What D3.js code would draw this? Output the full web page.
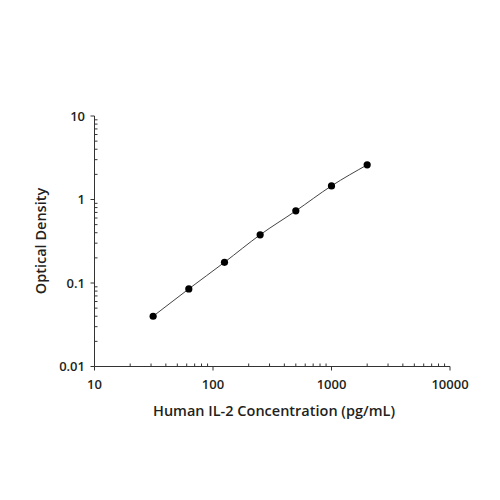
<!DOCTYPE html>
<html>
<head>
<meta charset="utf-8">
<script src="https://cdn.jsdelivr.net/npm/d3@7"></script>
<style>
  html, body { margin: 0; padding: 0; background: #fff; }
  svg { display: block; }
  text { font-family: "Open Sans", "Noto Sans", sans-serif; fill: #231f20; }
</style>
</head>
<body>
<svg id="chart" width="500" height="500"></svg>
<script>
const concentrations = [31.25, 62.5, 125, 250, 500, 1000, 2000];
const opticalDensity = [0.040, 0.085, 0.177, 0.378, 0.731, 1.456, 2.60];
const xTickValues = [10, 100, 1000, 10000];
const xTickLabels = ["10", "100", "1000", "10000"];
const yTickValues = [0.01, 0.1, 1, 10];
const yTickLabels = ["0.01", "0.1", "1", "10"];
const xTitle = "Human IL-2 Concentration (pg/mL)";
const yTitle = "Optical Density";

const svg = d3.select("#chart");
const plotLeft = 94.5, plotRight = 450, plotTop = 116, plotBottom = 366.5;

const x = d3.scaleLog().domain([10, 10000]).range([plotLeft, plotRight]);
const y = d3.scaleLog().domain([0.01, 10]).range([plotBottom, plotTop]);

const axisColor = "#333";

function minors(domain) {
  const out = [];
  for (let d = domain[0]; d < domain[1]; d *= 10) {
    for (let k = 2; k <= 9; k++) out.push(d * k);
  }
  return out;
}

// X axis
const gx = svg.append("g");
gx.append("line").attr("x1", plotLeft).attr("x2", plotRight).attr("y1", plotBottom).attr("y2", plotBottom)
  .attr("stroke", axisColor).attr("stroke-width", 1);
gx.selectAll("line.minor").data(minors(x.domain())).enter().append("line")
  .attr("class", "minor")
  .attr("x1", d => x(d)).attr("x2", d => x(d))
  .attr("y1", plotBottom).attr("y2", plotBottom - 3)
  .attr("stroke", axisColor).attr("stroke-width", 1);
gx.selectAll("line.major").data(xTickValues).enter().append("line")
  .attr("class", "major")
  .attr("x1", d => x(d)).attr("x2", d => x(d))
  .attr("y1", plotBottom).attr("y2", plotBottom + 4)
  .attr("stroke", axisColor).attr("stroke-width", 1);
gx.selectAll("text").data(xTickValues).enter().append("text")
  .attr("x", d => x(d)).attr("y", 389)
  .attr("text-anchor", "middle")
  .attr("font-size", 13).attr("font-weight", 600)
  .text((d, i) => xTickLabels[i]);

// Y axis
const gy = svg.append("g");
gy.append("line").attr("x1", plotLeft).attr("x2", plotLeft).attr("y1", plotTop).attr("y2", plotBottom)
  .attr("stroke", axisColor).attr("stroke-width", 1);
gy.selectAll("line.minor").data(minors(y.domain())).enter().append("line")
  .attr("class", "minor")
  .attr("y1", d => y(d)).attr("y2", d => y(d))
  .attr("x1", plotLeft).attr("x2", plotLeft + 3)
  .attr("stroke", axisColor).attr("stroke-width", 1);
gy.selectAll("line.major").data(yTickValues).enter().append("line")
  .attr("class", "major")
  .attr("y1", d => y(d)).attr("y2", d => y(d))
  .attr("x1", plotLeft).attr("x2", plotLeft - 4)
  .attr("stroke", axisColor).attr("stroke-width", 1);
gy.selectAll("text").data(yTickValues).enter().append("text")
  .attr("x", 85).attr("y", d => y(d))
  .attr("dy", "0.35em")
  .attr("text-anchor", "end")
  .attr("font-size", 13).attr("font-weight", 600)
  .text((d, i) => yTickLabels[i]);

// Titles
svg.append("text")
  .attr("x", 274).attr("y", 416)
  .attr("text-anchor", "middle")
  .attr("font-size", 14.5).attr("font-weight", 600)
  .text(xTitle);
svg.append("text")
  .attr("transform", "translate(46,241) rotate(-90)")
  .attr("text-anchor", "middle")
  .attr("font-size", 14.5).attr("font-weight", 600)
  .text(yTitle);

// Data
const data = concentrations.map((c, i) => ({ c, od: opticalDensity[i] }));
const line = d3.line().x(d => x(d.c)).y(d => y(d.od)).curve(d3.curveMonotoneX);
svg.append("path").datum(data)
  .attr("d", line)
  .attr("fill", "none").attr("stroke", "#444").attr("stroke-width", 1);
svg.selectAll("circle").data(data).enter().append("circle")
  .attr("cx", d => x(d.c)).attr("cy", d => y(d.od))
  .attr("r", 3.6).attr("fill", "#000");
</script>
</body>
</html>
